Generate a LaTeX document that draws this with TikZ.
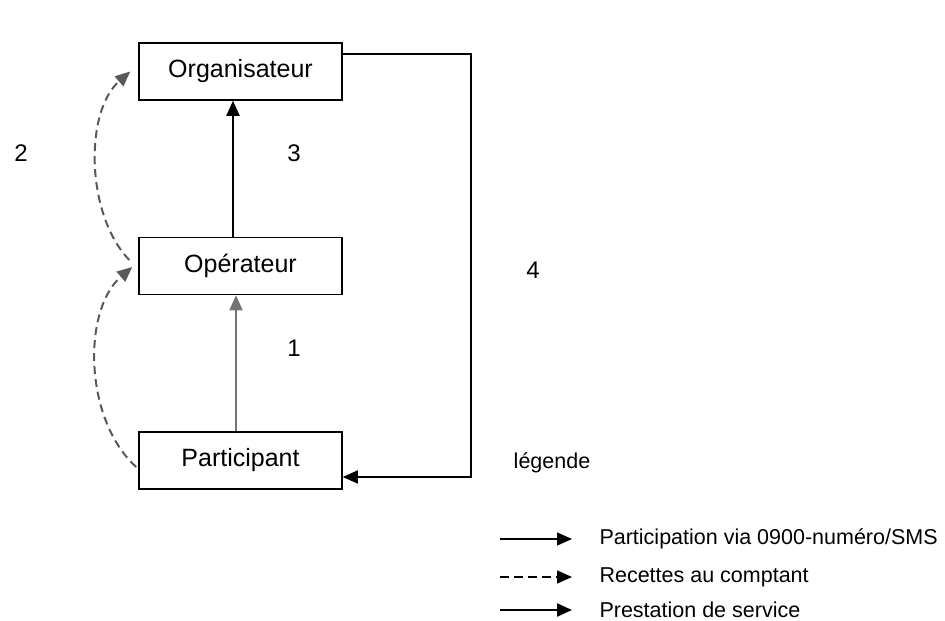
\documentclass[tikz,border=0pt]{standalone}
\usepackage{fontspec}
\setmainfont{Liberation Sans}
\usetikzlibrary{arrows.meta}
\begin{document}
\begin{tikzpicture}[x=1pt,y=-1pt,
    box/.style={draw, line width=1.5pt, minimum width=203pt, minimum height=57pt, font=\fontsize{25}{28}\selectfont},
    lbl/.style={font=\fontsize{24}{26}\selectfont},
    leg/.style={font=\fontsize{21.5}{24}\selectfont, anchor=west},
    tip/.style={-{Triangle[length=15pt,width=13pt]}}]
   \useasboundingbox (0,0) rectangle (945,621);
   \node[box] (org) at (240.5,71.5) {Organisateur};
   \node[box] (ope) at (240.5,266) {Opérateur};
   \node[box] (part) at (240.5,460.5) {Participant};
   \draw[tip, line width=2pt] ([xshift=-7.5pt]ope.north) -- ([xshift=-7.5pt]org.south);
   \draw[tip, line width=1.6pt, black!55] ([xshift=-4.5pt]part.north) -- ([xshift=-4.5pt]ope.south);
   \draw[tip, line width=1.6pt] ([yshift=17.5pt]org.east) -- ++(128,0) |- ([yshift=-16.5pt]part.east);
   \draw[tip, line width=2pt, black!65, dash pattern=on 8pt off 5pt] ([xshift=-9pt,yshift=6pt]ope.west) .. controls (86,215) and (84,112) .. ([xshift=-8pt]org.west);
   \draw[tip, line width=2pt, black!65, dash pattern=on 8pt off 5pt] ([xshift=-2pt,yshift=-6.5pt]part.west) .. controls (84,420) and (82,310) .. ([xshift=-6pt,yshift=-1pt]ope.west);
   \node[lbl] (n2) at (21,153) {2};
   \node[lbl] (n3) at (294,153) {3};
   \node[lbl] (n1) at (294,348) {1};
   \node[lbl] (n4) at (533,270) {4};
   \node[font=\fontsize{21.5}{24}\selectfont] (legende) at (552,463) {légende};
   % legend
   \node[leg] (l1) at (596,539) {Participation via 0900-numéro/SMS};
   \node[leg] (l2) at (596,577) {Recettes au comptant};
   \node[leg] (l3) at (596,610) {Prestation de service};
   \coordinate (a1) at (500,539);
   \coordinate (a2) at (500,577);
   \coordinate (a3) at (500,610);
   \draw[tip, line width=1.2pt] (a1) -- ([xshift=-24pt]l1.west);
   \draw[tip, line width=1.5pt, dash pattern=on 9pt off 5pt] (a2) -- ([xshift=-24pt]l2.west);
   \draw[tip, line width=2.2pt] (a3) -- ([xshift=-24pt]l3.west);
\end{tikzpicture}
\end{document}
